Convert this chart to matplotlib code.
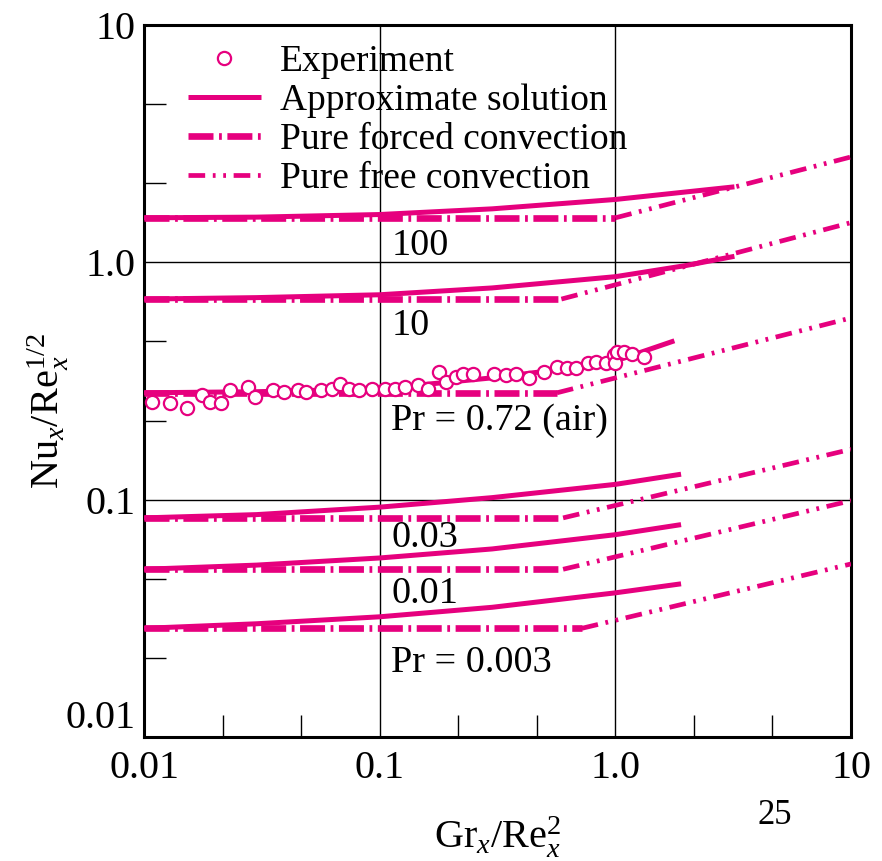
import numpy as np
import matplotlib.pyplot as plt
from matplotlib.ticker import NullFormatter
from matplotlib.legend_handler import HandlerLine2D

plt.rcParams['font.family'] = ['Liberation Serif', 'DejaVu Serif']
plt.rcParams['mathtext.fontset'] = 'custom'
plt.rcParams['mathtext.rm'] = 'Liberation Serif'
plt.rcParams['mathtext.it'] = 'Liberation Serif:italic'
plt.rcParams['lines.scale_dashes'] = False

MAGENTA = '#E6007E'

# --- data (Gr_x/Re_x^2 , Nu_x/Re_x^1/2) ---
prandtl = ['100', '10', '0.72', '0.03', '0.01', '0.003']

# approximate solution (solid curves)
approx_x = {
    '100':   [0.01, 0.03, 0.1, 0.3, 1.0, 2.0, 3.2],
    '10':    [0.01, 0.03, 0.1, 0.3, 1.0, 2.0, 3.2],
    '0.72':  [0.01, 0.03, 0.1, 0.3, 0.6, 1.0, 1.78],
    '0.03':  [0.01, 0.03, 0.1, 0.3, 1.0, 1.9],
    '0.01':  [0.01, 0.03, 0.1, 0.3, 1.0, 1.9],
    '0.003': [0.01, 0.03, 0.1, 0.3, 1.0, 1.9],
}
approx_y = {
    '100':   [1.54, 1.55, 1.59, 1.68, 1.84, 1.98, 2.08],
    '10':    [0.70, 0.71, 0.73, 0.78, 0.87, 0.97, 1.06],
    '0.72':  [0.282, 0.285, 0.293, 0.326, 0.355, 0.384, 0.467],
    '0.03':  [0.0838, 0.0865, 0.093, 0.102, 0.116, 0.128],
    '0.01':  [0.0509, 0.0530, 0.0568, 0.0620, 0.0712, 0.0785],
    '0.003': [0.0287, 0.0300, 0.0321, 0.0352, 0.0405, 0.0442],
}

# pure forced convection: constant level up to where free convection takes over
forced_level = {'100': 1.54, '10': 0.70, '0.72': 0.282,
                '0.03': 0.0838, '0.01': 0.0509, '0.003': 0.0287}
forced_end = {'100': 1.0, '10': 0.59, '0.72': 0.565,
              '0.03': 0.60, '0.01': 0.60, '0.003': 0.72}
# pure free convection: straight line from forced_end to x = 10
free_end_y = {'100': 2.78, '10': 1.47, '0.72': 0.583,
              '0.03': 0.163, '0.01': 0.099, '0.003': 0.0536}

# experiment, air
exp_x = [0.0108, 0.0129, 0.0152, 0.0176, 0.0191, 0.0213, 0.0231, 0.0276, 0.0295,
         0.0352, 0.0394, 0.0448, 0.0486, 0.0561, 0.0628, 0.0681, 0.0738, 0.0813,
         0.0925, 0.105, 0.116, 0.128, 0.146, 0.160, 0.179, 0.191, 0.211, 0.225,
         0.248, 0.305, 0.342, 0.377, 0.429, 0.496, 0.564, 0.621, 0.684, 0.766,
         0.830, 0.914, 0.991, 1.0, 1.02, 1.09, 1.18, 1.32]
exp_y = [0.259, 0.255, 0.243, 0.276, 0.259, 0.255, 0.290, 0.299, 0.272,
         0.290, 0.285, 0.290, 0.285, 0.290, 0.294, 0.306, 0.294, 0.290,
         0.294, 0.294, 0.294, 0.297, 0.304, 0.294, 0.346, 0.314, 0.330, 0.340,
         0.340, 0.340, 0.335, 0.340, 0.324, 0.346, 0.363, 0.357, 0.357, 0.375,
         0.381, 0.375, 0.406, 0.375, 0.419, 0.419, 0.412, 0.399]


class RightMarker(HandlerLine2D):
    # legend marker sits toward the right of the handle box, as in the figure
    def get_xdata(self, legend, xdescent, ydescent, width, height, fontsize):
        xdata, _ = super().get_xdata(legend, xdescent, ydescent, width, height, fontsize)
        return xdata, [-xdescent + 0.78 * width]


fig = plt.figure(figsize=(8.82, 8.61), dpi=100)
ax = fig.add_axes([0.1633, 0.1440, 0.8016, 0.8270])

forced_dash = (18, 4, 2, 4)
free_dash = (12, 5.5, 2, 5.5, 2, 5.5)

h_approx = h_forced = h_free = None
for pr in prandtl:
    h_approx, = ax.plot(approx_x[pr], approx_y[pr], color=MAGENTA, lw=3.6,
                        solid_capstyle='butt', zorder=3)
    h_forced, = ax.plot([0.01, forced_end[pr]], [forced_level[pr]] * 2,
                        color=MAGENTA, lw=4.8, dashes=forced_dash, zorder=4)
    h_free, = ax.plot([forced_end[pr], 10], [forced_level[pr], free_end_y[pr]],
                      color=MAGENTA, lw=3.4, dashes=free_dash, zorder=4)

h_exp, = ax.plot(exp_x, exp_y, 'o', ms=9.5, mfc='white', mec=MAGENTA, mew=1.6,
                 ls='none', zorder=5)

ax.set_xscale('log')
ax.set_yscale('log')
ax.set_xlim(0.01, 10)
ax.set_ylim(0.01, 10)

ax.set_xticks([0.01, 0.1, 1, 10], ['0.01', '0.1', '1.0', '10'])
ax.set_yticks([0.01, 0.1, 1, 10], ['0.01', '0.1', '1.0', '10'])
minor = [10 ** (k + f) for k in (-2, -1, 0) for f in (1 / 3, 2 / 3)]
ax.set_xticks(minor, minor=True)
ax.set_yticks(minor, minor=True)
ax.xaxis.set_minor_formatter(NullFormatter())
ax.yaxis.set_minor_formatter(NullFormatter())
ax.tick_params(which='major', length=0, labelsize=29)
ax.tick_params(axis='x', which='major', pad=9)
ax.tick_params(axis='y', which='major', pad=6)
ax.tick_params(which='minor', direction='in', length=16, width=1,
               top=False, right=False)
ax.grid(which='major', color='black', lw=1.0)
ax.set_axisbelow(True)
for s in ax.spines.values():
    s.set_linewidth(2.2)

# bottom y label sits above the corner so it clears the x label
ax.yaxis.get_major_ticks()[0].label1.set_verticalalignment('bottom')

ax.set_xlabel(r'Gr$_x$/Re$_x^2$', fontsize=29)
ax.xaxis.set_label_coords(0.5, -0.108)
ax.set_ylabel(r'Nu$_x$/Re$_x^{1/2}$', fontsize=29)
ax.yaxis.set_label_coords(-0.105, 0.458)

labels = [('100', 0.677), ('10', 0.565), ('Pr = 0.72 (air)', 0.431),
          ('0.03', 0.267), ('0.01', 0.188), ('Pr = 0.003', 0.0913)]
for txt, yy in labels:
    ax.text(0.35, yy, txt, transform=ax.transAxes, fontsize=27.5,
            ha='left', va='baseline')

leg = ax.legend([h_exp, h_approx, h_forced, h_free],
                ['Experiment', 'Approximate solution', 'Pure forced convection',
                 'Pure free convection'],
                loc='upper left', bbox_to_anchor=(0.062, 0.972), frameon=False,
                fontsize=27, handlelength=1.95, handletextpad=0.5, labelspacing=0.12,
                borderpad=0, borderaxespad=0, numpoints=1,
                handler_map={h_exp: RightMarker()})

fig.text(775 / 882, 1 - 815 / 861, '25', fontsize=25, ha='center', va='center')

fig.savefig('out.png', dpi=100)
